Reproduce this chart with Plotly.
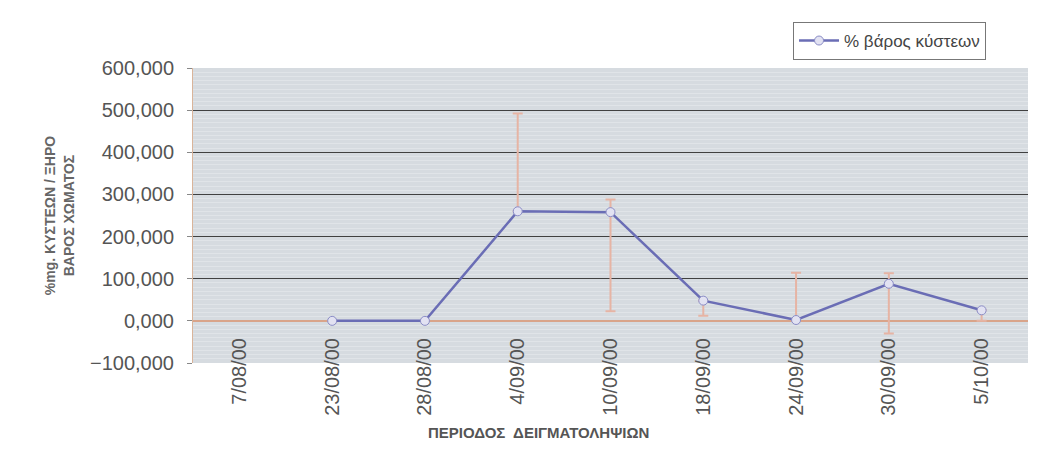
"""Cyst weight percentage per sampling date, with error bars."""
import plotly.graph_objects as go

dates = ["7/08/00", "23/08/00", "28/08/00", "4/09/00", "10/09/00",
         "18/09/00", "24/09/00", "30/09/00", "5/10/00"]
cyst_pct = [None, 0, 0, 260, 258, 48, 2, 88, 25]
err_plus = [0, 0, 0, 232, 30, 0, 112, 25, 0]
err_minus = [0, 0, 0, 0, 235, 36, 0, 118, 25]

fig = go.Figure()
fig.add_trace(go.Scatter(
    x=dates, y=cyst_pct, mode='lines+markers', name='% βάρος κύστεων',
    line=dict(color='#6a6db5', width=2.5),
    marker=dict(symbol='circle', size=9, color='#e2e2f2', line=dict(color='#8a8cc6', width=1)),
    error_y=dict(type='data', symmetric=False, array=err_plus, arrayminus=err_minus,
                 color='#e6b4a4', thickness=2, width=5),
    connectgaps=False))

fig.update_layout(
    width=1051, height=467,
    paper_bgcolor='white', plot_bgcolor='#d6dbe0',
    font=dict(family='Liberation Sans, Arial, sans-serif', color='#555555'),
    separators=',.',
    margin=dict(l=185, r=31, t=60, b=112),
    showlegend=True,
    legend=dict(x=0.7186, y=1.156, xanchor='left', yanchor='top', itemwidth=40,
                bgcolor='white', bordercolor='#777777', borderwidth=1,
                font=dict(size=17, color='#444444')),
    xaxis=dict(type='category', range=[-0.5, 8.5], tickangle=-90,
               tickfont=dict(size=20, color='#555555'), showgrid=False,
               showline=False, ticks='', ticklabelstandoff=-30),
    yaxis=dict(range=[-100, 600], dtick=100, tickformat='.3f',
               tickfont=dict(size=20, color='#555555'),
               showgrid=True, gridcolor='#404040', gridwidth=1,
               zeroline=True, zerolinecolor='#d9a48a', zerolinewidth=2,
               showline=True, linecolor='#d9b49a', linewidth=1,
               ticks='outside', tickcolor='#888888', ticklen=5,
               ticklabelstandoff=9,
               minor=dict(dtick=10, showgrid=True, gridcolor='rgba(255,255,255,0.25)', gridwidth=1),
               title=dict(text='<b>%mg. ΚΥΣΤΕΩΝ / ΞΗΡΟ<br>ΒΑΡΟΣ ΧΩΜΑΤΟΣ</b>',
                          font=dict(size=14, color='#666666'), standoff=12)),
)

fig.add_annotation(text='<b>ΠΕΡΙΟΔΟΣ  ΔΕΙΓΜΑΤΟΛΗΨΙΩΝ</b>', xref='paper', yref='paper',
                   x=0.414, y=-0.234, xanchor='center', yanchor='middle', showarrow=False,
                   font=dict(size=15, color='#555555',
                             family='Liberation Sans Narrow, Liberation Sans, sans-serif'))

# faint outer frame of the chart
fig.add_shape(type='line', xref='paper', yref='paper',
              x0=-0.226, x1=-0.226, y0=-0.4, y1=1.25,
              line=dict(color='#cccccc', width=1))

fig.write_html("out.html")
